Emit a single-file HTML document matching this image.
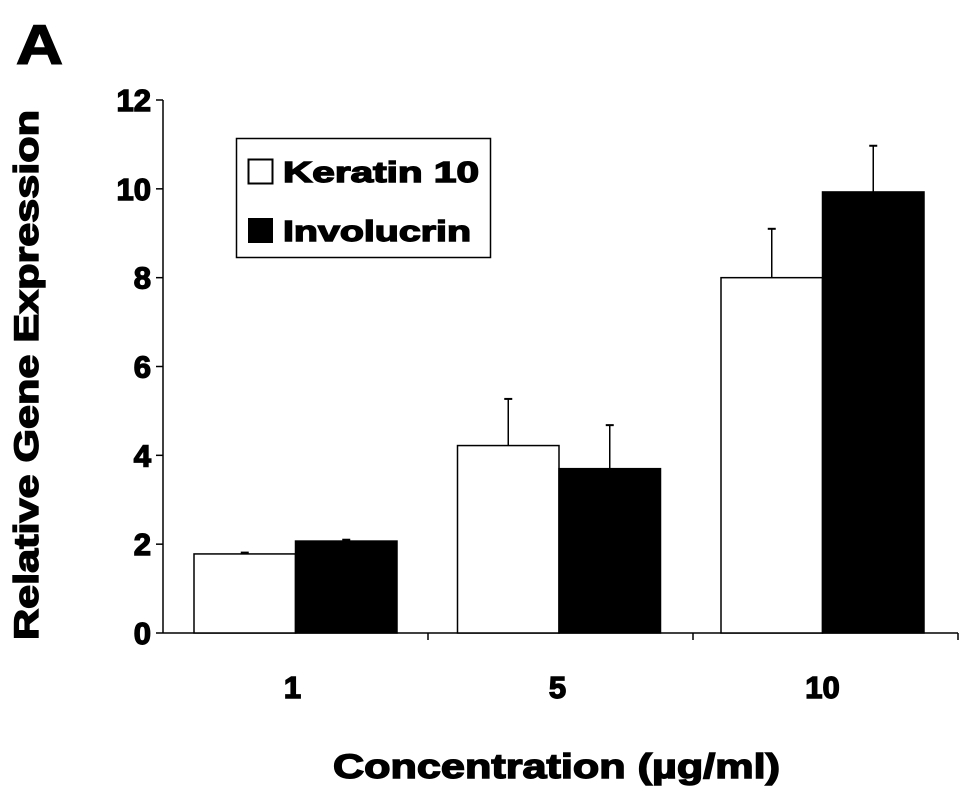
<!DOCTYPE html>
<html><head><meta charset="utf-8"><style>
body{margin:0;background:#fff}
svg{display:block;font-family:"Liberation Sans",Arial,sans-serif;font-weight:bold}
.t{stroke:#000;stroke-width:1.4;paint-order:stroke}
</style></head><body>
<svg id="c" width="969" height="797" viewBox="0 0 969 797">
<text class="t" x="16" y="64" font-size="56" textLength="47" lengthAdjust="spacingAndGlyphs">A</text>
<g id="plot"></g>
<text class="t" x="333" y="778" font-size="34" textLength="447" lengthAdjust="spacingAndGlyphs">Concentration (µg/ml)</text>
<text class="t" transform="translate(38,640) rotate(-90)" font-size="34" textLength="530" lengthAdjust="spacingAndGlyphs">Relative Gene Expression</text>
<g>
<rect x="236.5" y="138.5" width="254" height="119" fill="#fff" stroke="#000" stroke-width="1.5"/>
<rect x="248.5" y="159.5" width="24" height="24" fill="#fff" stroke="#000" stroke-width="2"/>
<text class="t" x="283" y="182" font-size="29" textLength="196" lengthAdjust="spacingAndGlyphs">Keratin 10</text>
<rect x="248" y="218" width="25" height="25" fill="#000"/>
<text class="t" x="283" y="241" font-size="29" textLength="188" lengthAdjust="spacingAndGlyphs">Involucrin</text>
</g>
</svg>
<script>
const categories=["1","5","10"];
const keratin=[1.78,4.22,8.0];
const keratinErr=[0.03,1.05,1.1];
const involucrin=[2.07,3.7,9.93];
const involucrinErr=[0.03,0.98,1.04];
const yTicks=[0,2,4,6,8,10,12];
const NS="http://www.w3.org/2000/svg";
const g=document.getElementById('plot');
const x0=163,x1=958,y0=633,yTop=100,yMax=12;
const y=v=>y0-(y0-yTop)*v/yMax;
const gw=(x1-x0)/categories.length;
function mk(t,a){const e=document.createElementNS(NS,t);for(const k in a)e.setAttribute(k,a[k]);g.appendChild(e);return e;}
let e=mk('line',{x1:x0,y1:yTop,x2:x0,y2:y0,stroke:'#000','stroke-width':1.5});


e=mk('line',{x1:x0,y1:y0,x2:x1,y2:y0,stroke:'#000','stroke-width':1.5});


yTicks.forEach(t=>{
 const l=mk('line',{x1:x0-7,y1:y(t),x2:x0,y2:y(t),stroke:'#000','stroke-width':1.5});
 
 
 const tx=mk('text',{x:x0-12,y:y(t)+11,'font-size':31,'text-anchor':'end','class':'t'});
 tx.textContent=t;
 
 
});
categories.forEach((c,i)=>{
 const gx=x0+gw*i;
 const l=mk('line',{x1:gx+gw,y1:y0,x2:gx+gw,y2:y0+7,stroke:'#000','stroke-width':1.5});
 
 
 const tx=mk('text',{x:gx+gw/2-3,y:698,'font-size':31,'text-anchor':'middle','class':'t'});
 tx.textContent=c;
 
 
 const bw=101.5, bx=gx+31-1.5*i;
 [[keratin,keratinErr,'#fff','keratin'],[involucrin,involucrinErr,'#000','involucrin']].forEach((s,j)=>{
  const v=s[0][i],er=s[1][i],xx=bx+bw*j,cx=xx+bw/2;
  const el=mk('line',{x1:cx,y1:y(v),x2:cx,y2:y(v+er),stroke:'#000','stroke-width':1.5});
  
  
  const cp=mk('line',{x1:cx-4,y1:y(v+er),x2:cx+4,y2:y(v+er),stroke:'#000','stroke-width':2});
  
  
  const r=mk('rect',{x:xx,y:y(v),width:bw,height:y0-y(v),fill:s[2],stroke:'#000','stroke-width':1.5});
  
  
 });
});
</script>
</body></html>
